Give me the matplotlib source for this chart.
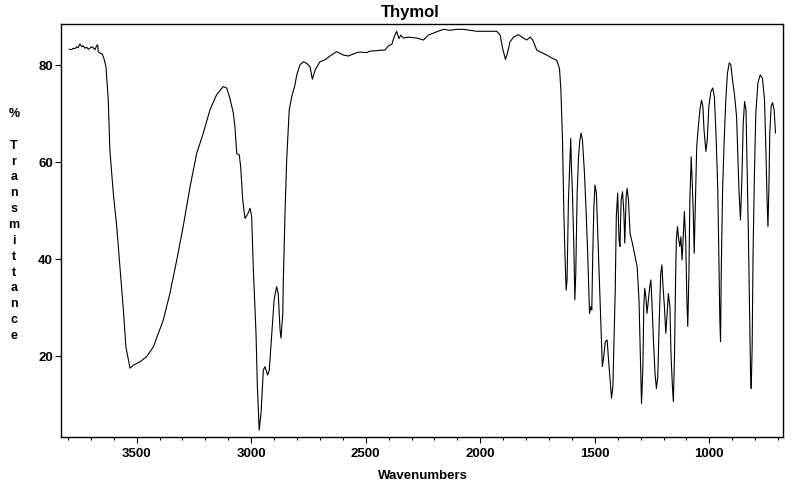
import matplotlib
matplotlib.use("Agg")
import matplotlib.pyplot as plt
from matplotlib.ticker import MultipleLocator, FixedLocator

plt.rcParams['font.family'] = ['Liberation Sans', 'DejaVu Sans']
plt.rcParams['font.weight'] = 'bold'

title = "Thymol"
x_label = "Wavenumbers"
y_label_chars = ["%", "", "T", "r", "a", "n", "s", "m", "i", "t", "t", "a", "n", "c", "e"]

wavenumber = [
    3794, 3784, 3777, 3769, 3762, 3755, 3748, 3740, 3733, 3726, 3718, 3711, 3704, 3697,
    3690, 3682, 3675, 3670, 3668, 3660, 3650, 3643, 3634, 3624, 3617, 3602, 3587, 3573,
    3558, 3547, 3529, 3515, 3486, 3456, 3427, 3413, 3384, 3355, 3325, 3297, 3267, 3238,
    3209, 3180, 3151, 3122, 3107, 3093, 3078, 3071, 3063, 3052, 3046, 3037, 3027, 3013,
    3005, 2998, 2991, 2979, 2973, 2965, 2957, 2947, 2940, 2928, 2921, 2910, 2900, 2889,
    2882, 2874, 2870, 2862, 2860, 2852, 2845, 2834, 2823, 2809, 2801, 2787, 2772, 2758,
    2743, 2733, 2721, 2700, 2678, 2656, 2627, 2598, 2576, 2539, 2525, 2496, 2481, 2452,
    2438, 2416, 2401, 2386, 2376, 2365, 2355, 2347, 2336, 2314, 2277, 2248, 2227, 2190,
    2161, 2132, 2103, 2074, 2045, 2015, 1986, 1957, 1928, 1913, 1902, 1890, 1882, 1870,
    1855, 1834, 1812, 1797, 1782, 1771, 1753, 1731, 1710, 1688, 1666, 1654, 1648, 1641,
    1635, 1630, 1625, 1621, 1615, 1609, 1605, 1602, 1598, 1592, 1587, 1583, 1577, 1571,
    1565, 1560, 1554, 1545, 1537, 1531, 1523, 1517, 1513, 1509, 1504, 1499, 1493, 1487,
    1480, 1472, 1467, 1461, 1454, 1446, 1441, 1433, 1427, 1421, 1416, 1411, 1406, 1400,
    1394, 1390, 1385, 1379, 1373, 1369, 1363, 1359, 1353, 1346, 1336, 1324, 1315, 1307,
    1301, 1296, 1290, 1286, 1282, 1277, 1272, 1266, 1260, 1255, 1251, 1244, 1237, 1231,
    1225, 1219, 1212, 1207, 1202, 1196, 1190, 1184, 1179, 1172, 1167, 1161, 1157, 1152,
    1148, 1144, 1139, 1135, 1129, 1124, 1119, 1113, 1109, 1103, 1098, 1094, 1089, 1085,
    1079, 1075, 1070, 1066, 1061, 1055, 1048, 1041, 1034, 1028, 1023, 1015, 1009, 1002,
    993, 985, 978, 971, 963, 957, 954, 951, 948, 942, 935, 928, 921, 913,
    906, 899, 890, 881, 875, 870, 864, 858, 852, 846, 840, 835, 829, 825,
    820, 817, 813, 809, 803, 797, 788, 778, 768, 759, 753, 747, 744, 740,
    736, 730, 724, 717, 711,
]

transmittance = [
    83.3, 83.2, 83.5, 83.4, 83.8, 83.6, 84.4, 83.8, 84.0, 83.5, 83.7, 83.3, 83.5, 83.8,
    83.6, 83.2, 84.0, 84.2, 82.8, 82.5, 82.3, 81.4, 79.7, 72.8, 62.5, 53.6, 46.7, 38.4,
    29.5, 21.9, 17.5, 18.1, 18.8, 19.9, 21.9, 23.7, 27.4, 32.9, 39.8, 46.7, 54.9, 61.8,
    66.0, 70.8, 73.9, 75.6, 75.3, 73.2, 70.1, 67.3, 61.8, 61.5, 59.1, 52.2, 48.4, 49.5,
    50.5, 48.8, 38.4, 24.7, 13.7, 4.7, 8.2, 17.1, 17.8, 16.1, 17.1, 24.7, 31.6, 34.3,
    32.9, 25.4, 23.7, 28.8, 35.0, 50.1, 60.5, 70.8, 73.5, 75.9, 78.0, 80.1, 80.7, 80.4,
    79.7, 77.1, 79.0, 80.7, 81.1, 81.9, 82.8, 82.1, 81.9, 82.6, 82.7, 82.6, 82.9, 83.0,
    83.1, 83.1, 84.0, 84.3, 85.8, 87.0, 85.5, 86.2, 85.6, 85.8, 85.6, 85.2, 86.2, 86.9,
    87.4, 87.2, 87.4, 87.4, 87.2, 87.0, 87.0, 87.0, 87.0, 86.2, 83.4, 81.2, 82.4, 84.8,
    85.8, 86.3, 85.6, 85.2, 85.8, 85.2, 83.1, 82.6, 82.1, 81.5, 81.0, 79.3, 74.9, 64.6,
    49.5, 40.5, 33.6, 35.7, 52.2, 59.8, 64.9, 59.1, 54.3, 43.9, 31.6, 37.1, 53.6, 61.1,
    64.6, 66.0, 64.6, 57.7, 48.8, 41.2, 28.8, 30.2, 29.5, 40.5, 50.8, 55.3, 53.6, 45.3,
    35.7, 24.7, 17.8, 19.9, 23.0, 23.3, 19.9, 15.0, 11.3, 13.7, 23.3, 32.9, 48.8, 53.6,
    43.9, 42.6, 52.2, 53.9, 49.5, 43.3, 52.9, 54.6, 52.2, 45.3, 43.3, 40.5, 38.4, 31.6,
    19.9, 10.2, 17.8, 30.2, 34.0, 32.2, 28.8, 31.6, 34.3, 35.7, 31.6, 23.3, 16.4, 13.3,
    15.7, 26.7, 37.1, 38.8, 34.3, 30.2, 24.7, 28.8, 32.9, 30.2, 19.9, 13.7, 10.6, 19.9,
    33.6, 43.9, 46.7, 44.6, 42.6, 44.6, 39.8, 45.3, 49.8, 43.9, 31.6, 26.1, 37.1, 52.2,
    61.1, 56.3, 49.5, 41.2, 50.8, 63.2, 67.3, 70.8, 72.8, 71.5, 66.6, 62.2, 64.6, 71.5,
    74.6, 75.3, 73.5, 66.0, 54.3, 37.1, 27.4, 23.0, 37.1, 54.3, 64.6, 72.8, 78.3, 80.5,
    80.1, 77.0, 73.9, 69.4, 61.1, 53.6, 48.1, 56.3, 68.0, 72.5, 70.8, 59.1, 43.9, 31.6,
    16.4, 13.3, 21.9, 41.2, 57.7, 70.1, 76.3, 78.0, 77.3, 72.8, 62.5, 50.8, 46.7, 54.3,
    66.0, 71.5, 72.3, 70.8, 66.0,
]

x_major_ticks = [3500, 3000, 2500, 2000, 1500, 1000]
y_ticks = [20, 40, 60, 80]

fig = plt.figure(figsize=(8.0, 4.84), dpi=100)
ax = fig.add_axes([61.3 / 800, 47 / 484, (783.3 - 61.3) / 800, (437 - 24) / 484])

ax.plot(wavenumber, transmittance, color='black', linewidth=0.8)

ax.set_xlim(3829, 677)
ax.set_ylim(3.3, 88.5)

ax.xaxis.set_major_locator(FixedLocator(x_major_ticks))
ax.xaxis.set_minor_locator(MultipleLocator(100))
ax.yaxis.set_major_locator(FixedLocator(y_ticks))

ax.tick_params(axis='x', which='major', direction='out', length=4, width=0.8,
               labelsize=9.5, pad=4)
ax.tick_params(axis='x', which='minor', direction='out', length=2, width=0.8)
ax.tick_params(axis='y', which='major', direction='out', length=4, width=0.8,
               labelsize=9.5, pad=2)
for lab in ax.get_xticklabels() + ax.get_yticklabels():
    lab.set_fontweight('bold')

for sp in ax.spines.values():
    sp.set_linewidth(1.0)
    sp.set_color('black')

fig.text(410 / 800, 1 - 12 / 484, title, ha='center', va='center',
         fontsize=12, fontweight='bold')
fig.text(423 / 800, 1 - 476 / 484, x_label, ha='center', va='center',
         fontsize=9.5, fontweight='bold')
fig.text(14 / 800, 1 - 225 / 484, "\n".join(y_label_chars), ha='center', va='center',
         fontsize=9, fontweight='bold', linespacing=1.43)

fig.savefig("out.png", dpi=100)
